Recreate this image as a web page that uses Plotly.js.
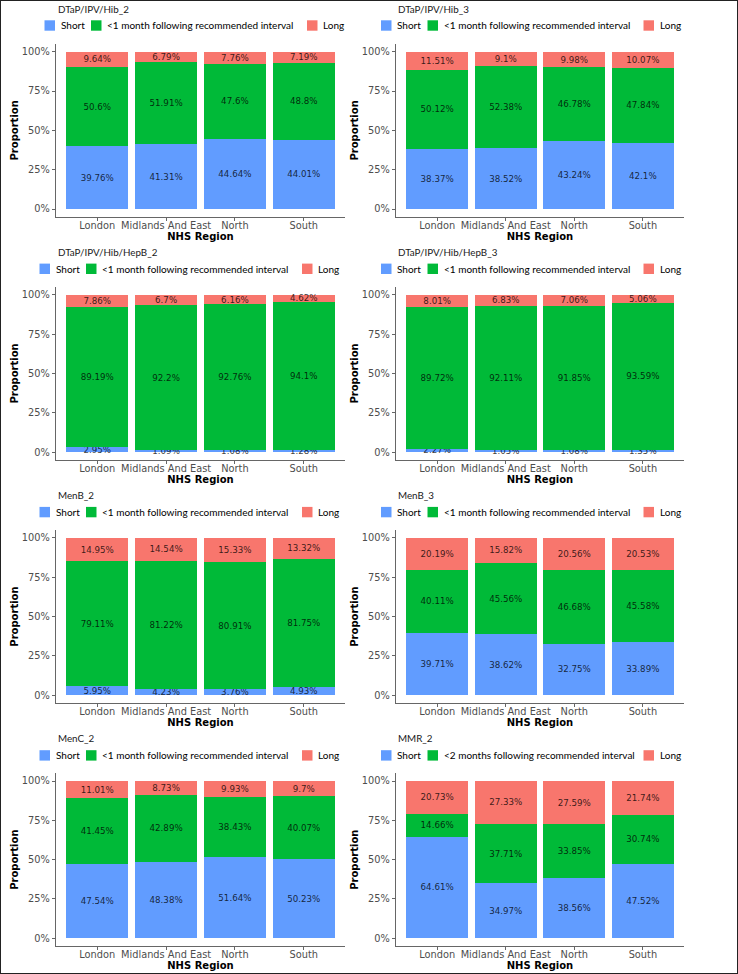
<!DOCTYPE html>
<html>
<head>
<meta charset="utf-8">
<script src="https://cdn.plot.ly/plotly-3.0.1.min.js"></script>
<style>
html,body{margin:0;padding:0;background:#fff;}
#wrap{position:relative;width:738px;height:974px;overflow:hidden;}
#chart{position:absolute;left:0;top:0;width:738px;height:974px;}
#frame{position:absolute;left:0;top:0;width:738px;height:974px;box-sizing:border-box;border:1px solid #222;pointer-events:none;}
</style>
</head>
<body>
<div id="wrap"><div id="chart"></div><div id="frame"></div></div>
<script>
// ---------- data ----------
const regions = ["London", "Midlands And East", "North", "South"];
const panelTitles = ["DTaP/IPV/Hib_2", "DTaP/IPV/Hib_3", "DTaP/IPV/Hib/HepB_2", "DTaP/IPV/Hib/HepB_3",
                     "MenB_2", "MenB_3", "MenC_2", "MMR_2"];
const seriesShort = "Short";
const seriesLong = "Long";
const seriesMid = ["<1 month following recommended interval", "<1 month following recommended interval",
                   "<1 month following recommended interval", "<1 month following recommended interval",
                   "<1 month following recommended interval", "<1 month following recommended interval",
                   "<1 month following recommended interval", "<2 months following recommended interval"];

const shortVals = [
  [39.76, 41.31, 44.64, 44.01],
  [38.37, 38.52, 43.24, 42.1],
  [2.95, 1.09, 1.08, 1.28],
  [2.27, 1.05, 1.08, 1.35],
  [5.95, 4.23, 3.76, 4.93],
  [39.71, 38.62, 32.75, 33.89],
  [47.54, 48.38, 51.64, 50.23],
  [64.61, 34.97, 38.56, 47.52]
];
const midVals = [
  [50.6, 51.91, 47.6, 48.8],
  [50.12, 52.38, 46.78, 47.84],
  [89.19, 92.2, 92.76, 94.1],
  [89.72, 92.11, 91.85, 93.59],
  [79.11, 81.22, 80.91, 81.75],
  [40.11, 45.56, 46.68, 45.58],
  [41.45, 42.89, 38.43, 40.07],
  [14.66, 37.71, 33.85, 30.74]
];
const longVals = [
  [9.64, 6.79, 7.76, 7.19],
  [11.51, 9.1, 9.98, 10.07],
  [7.86, 6.7, 6.16, 4.62],
  [8.01, 6.83, 7.06, 5.06],
  [14.95, 14.54, 15.33, 13.32],
  [20.19, 15.82, 20.56, 20.53],
  [11.01, 8.73, 9.93, 9.7],
  [20.73, 27.33, 27.59, 21.74]
];
const yTickVals = [0, 25, 50, 75, 100];
const yTickText = ["0%", "25%", "50%", "75%", "100%"];
const xTitle = "NHS Region";
const yTitle = "Proportion";

// ---------- style ----------
const W = 738, H = 974;
const colors = {short: "#619CFF", mid: "#00BA38", long: "#F8766D"};
const px = x => x / W;
const py = y => 1 - y / H;
const tickFont = {family: "DejaVu Sans", size: 9.8, color: "#4D4D4D"};
const axTitleFont = {family: "DejaVu Sans", size: 10, color: "#000", weight: "bold"};
const labelFont = {family: "DejaVu Sans", size: 8.7, color: "rgba(0,0,0,0.78)"};
const headFont = {family: "Lato, 'Open Sans', sans-serif", size: 9.8, color: "#1a1a1a"};
const legFont = {family: "Lato, 'Open Sans', sans-serif", size: 10, color: "#000"};
const axisCol = "#666";
const esc = s => s.replace(/</g, "&lt;");

const traces = [];
const layout = {
  width: W, height: H,
  margin: {l: 0, r: 0, t: 0, b: 0},
  paper_bgcolor: "#fff", plot_bgcolor: "#fff",
  barmode: "stack", bargap: 0.1,
  showlegend: false,
  annotations: [], shapes: []
};

for (let i = 0; i < 8; i++) {
  const c = i % 2, r = Math.floor(i / 2);
  const n = i === 0 ? "" : String(i + 1);
  const xa = "x" + n, ya = "y" + n;
  const xL = c === 0 ? 56 : 396, xR = c === 0 ? 345 : 684;
  const y100 = 51.7 + 243.1 * r, y0 = y100 + 157.3;
  const pad = 0.05 * (y0 - y100);
  const top = y100 - pad, bot = y0 + pad;

  const mk = (vals, name, col) => ({
    type: "bar", x: regions, y: vals[i], name: name,
    xaxis: xa, yaxis: ya,
    marker: {color: col, line: {width: 0}},
    text: vals[i].map(v => v + "%"),
    textposition: "inside", insidetextanchor: "middle",
    textangle: 0, constraintext: "none",
    textfont: labelFont, hoverinfo: "skip", showlegend: false
  });
  traces.push(mk(shortVals, seriesShort, colors.short));
  traces.push(mk(midVals, seriesMid[i], colors.mid));
  traces.push(mk(longVals, seriesLong, colors.long));

  layout["xaxis" + n] = {
    domain: [px(xL), px(xR)], anchor: ya, type: "category",
    range: [-0.6, 3.6], fixedrange: true,
    showline: true, linecolor: axisCol, linewidth: 1.2,
    ticks: "outside", ticklen: 3, tickwidth: 1, tickcolor: axisCol,
    ticklabelstandoff: -4,
    tickangle: 0, tickfont: tickFont, showgrid: false, zeroline: false,
    title: {text: xTitle, font: axTitleFont, standoff: 0}
  };
  layout["yaxis" + n] = {
    domain: [py(bot), py(top)], anchor: xa,
    range: [-5, 105], fixedrange: true,
    tickmode: "array", tickvals: yTickVals, ticktext: yTickText,
    showline: true, linecolor: axisCol, linewidth: 1.2,
    ticks: "outside", ticklen: 3, tickwidth: 1, tickcolor: axisCol,
    tickfont: tickFont, showgrid: false, zeroline: false,
    title: {text: yTitle, font: axTitleFont, standoff: 1}
  };

  // panel title
  layout.annotations.push({
    xref: "paper", yref: "paper", x: px(xL), y: py(9 + 243 * r),
    xanchor: "left", yanchor: "middle", showarrow: false,
    text: esc(panelTitles[i]), font: headFont
  });

  // legend (drawn keys)
  const lx = c === 0 ? (r === 0 ? 44.5 : 39.5) : 381;
  const ly = 25.5 + 243.3 * r;
  const keys = [
    {b: 0, t: 14, col: colors.short, lab: seriesShort},
    {b: 46.5, t: 60.5, col: colors.mid, lab: seriesMid[i]},
    {b: 262.5, t: 276.5, col: colors.long, lab: seriesLong}
  ];
  keys.forEach(k => {
    layout.shapes.push({
      type: "rect", xref: "paper", yref: "paper",
      x0: px(lx + k.b), x1: px(lx + k.b + 10.5),
      y0: py(ly + 5.2), y1: py(ly - 5.2),
      fillcolor: k.col, line: {width: 0}
    });
    layout.annotations.push({
      xref: "paper", yref: "paper", x: px(lx + k.t), y: py(ly),
      xanchor: "left", yanchor: "middle", showarrow: false,
      text: esc(k.lab), font: legFont
    });
  });
}

Plotly.newPlot("chart", traces, layout, {displayModeBar: false, staticPlot: true});
</script>
</body>
</html>
